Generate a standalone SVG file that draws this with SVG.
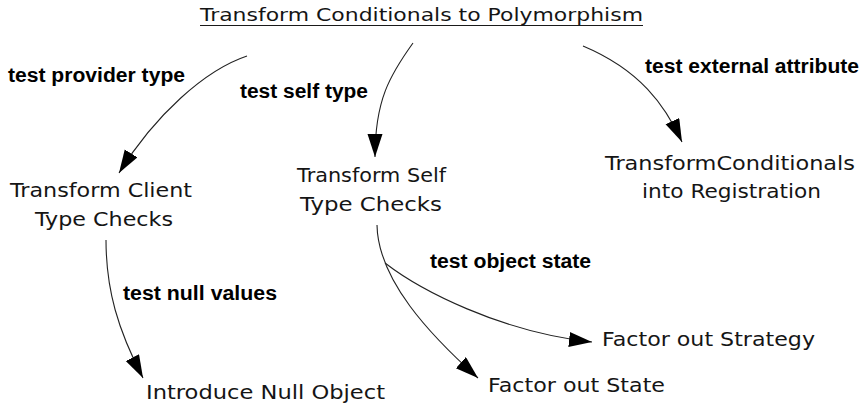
<svg xmlns="http://www.w3.org/2000/svg" width="866" height="404" viewBox="0 0 866 404">
<style>
.node{font-family:"DejaVu Sans","Liberation Sans",sans-serif;font-size:20px;fill:#151515}
.title{font-family:"DejaVu Sans","Liberation Sans",sans-serif;font-size:18px;fill:#151515}
.lbl{font-family:"Liberation Sans",Arial,sans-serif;font-size:20px;font-weight:bold;fill:#000}
.edge{fill:none;stroke:#222;stroke-width:1.1}
</style>
<defs>
<marker id="ah" markerUnits="userSpaceOnUse" markerWidth="26" markerHeight="18" refX="23" refY="7.5" orient="auto" viewBox="0 0 26 18">
<path d="M0,0 L23,7.5 L0,15 Z" fill="#000"/>
</marker>
</defs>
<rect width="866" height="404" fill="#fff"/>
<g id="root">
<text class="title" x="200" y="21" textLength="443" lengthAdjust="spacingAndGlyphs">Transform Conditionals to Polymorphism</text>
<line x1="200" y1="25.5" x2="643" y2="25.5" stroke="#1a1a1a" stroke-width="1"/>
</g>
<g id="client">
<text class="node" x="10" y="197" textLength="182" lengthAdjust="spacingAndGlyphs">Transform Client</text>
<text class="node" x="35" y="226" textLength="138" lengthAdjust="spacingAndGlyphs">Type Checks</text>
</g>
<g id="self">
<text class="node" x="297" y="182" textLength="149" lengthAdjust="spacingAndGlyphs">Transform Self</text>
<text class="node" x="300" y="211" textLength="142" lengthAdjust="spacingAndGlyphs">Type Checks</text>
</g>
<g id="registration">
<text class="node" x="605" y="170" textLength="250" lengthAdjust="spacingAndGlyphs">TransformConditionals</text>
<text class="node" x="642" y="198" textLength="179" lengthAdjust="spacingAndGlyphs">into Registration</text>
</g>
<g id="nullobject">
<text class="node" x="146" y="399" textLength="239" lengthAdjust="spacingAndGlyphs">Introduce Null Object</text>
</g>
<g id="state">
<text class="node" x="488" y="392" textLength="177" lengthAdjust="spacingAndGlyphs">Factor out State</text>
</g>
<g id="strategy">
<text class="node" x="602" y="346" textLength="213" lengthAdjust="spacingAndGlyphs">Factor out Strategy</text>
</g>
<g id="connectors">
<path class="edge" d="M247,56 C205,70 155,115 119,173" marker-end="url(#ah)"/>
<path class="edge" d="M413,43 C390,75 375,100 375,157" marker-end="url(#ah)"/>
<path class="edge" d="M583,46 C640,70 665,105 682,142" marker-end="url(#ah)"/>
<path class="edge" d="M106,240 C106,290 118,330 143,378" marker-end="url(#ah)"/>
<path class="edge" d="M377,225 C378,280 430,335 478,378" marker-end="url(#ah)"/>
<path class="edge" d="M385,263 C420,290 500,332 592,342" marker-end="url(#ah)"/>
<text class="lbl" x="8" y="82" textLength="177" lengthAdjust="spacingAndGlyphs">test provider type</text>
<text class="lbl" x="240" y="98" textLength="128" lengthAdjust="spacingAndGlyphs">test self type</text>
<text class="lbl" x="645" y="73" textLength="214" lengthAdjust="spacingAndGlyphs">test external attribute</text>
<text class="lbl" x="123" y="300" textLength="154" lengthAdjust="spacingAndGlyphs">test null values</text>
<text class="lbl" x="430" y="268" textLength="161" lengthAdjust="spacingAndGlyphs">test object state</text>
</g>
</svg>
